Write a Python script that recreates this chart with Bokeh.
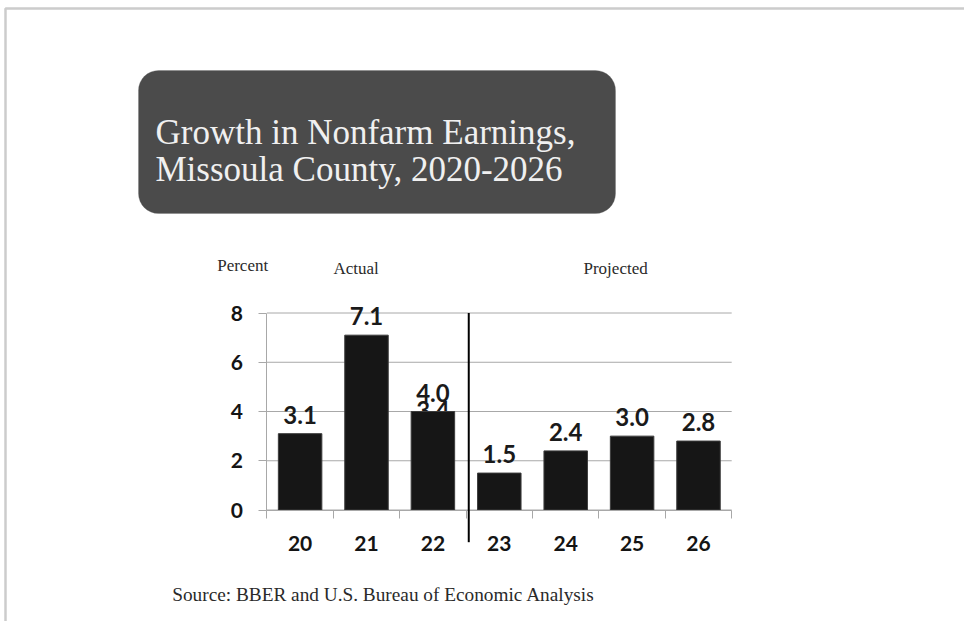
from bokeh.plotting import figure
from bokeh.models import (ColumnDataSource, FixedTicker, LabelSet, Label,
                          BoxAnnotation, Arrow, Range1d)
from bokeh.core.properties import value
from bokeh.embed import file_html
from bokeh.resources import INLINE

# ---- data ----
years = ["20", "21", "22", "23", "24", "25", "26"]
growth = [3.1, 7.1, 4.0, 1.5, 2.4, 3.0, 2.8]
value_labels = ["3.1", "7.1", "4.0", "1.5", "2.4", "3.0", "2.8"]
stale_years = ["22"]
stale_values = [3.4]
stale_labels = ["3.4"]
n_actual = 3
y_ticks = [0, 2, 4, 6, 8]
title_lines = ["Growth in Nonfarm Earnings,", "Missoula County, 2020-2026"]
source_text = "Source:  BBER and U.S. Bureau of Economic Analysis"

# ---- layout (canvas pixels) ----
W, H = 964, 621
X_ORIGIN_PX = 266.4    # canvas x of the left end of the category axis
Y_ORIGIN_PX = 509.5    # canvas y of value 0
PX_PER_CAT = 66.4
PX_PER_UNIT = 24.625


def dx(cx):
    return -0.5 + (cx - X_ORIGIN_PX) / PX_PER_CAT


def dy(cy):
    return (Y_ORIGIN_PX - cy) / PX_PER_UNIT


xs = list(range(len(years)))
src = ColumnDataSource(dict(x=xs, top=growth, lab=value_labels))
stale_src = ColumnDataSource(dict(x=[years.index(y) for y in stale_years],
                                  top=stale_values, lab=stale_labels))

p = figure(width=W, height=H, output_backend="svg", toolbar_location=None,
           x_range=Range1d(dx(0), dx(W)), y_range=Range1d(dy(H), dy(0)),
           min_border=0)
p.title.visible = False
p.outline_line_color = None
p.background_fill_color = "white"
p.border_fill_color = "white"

GRID = "#a8a8a8"
BOLD = "Lato"
SERIF = "Liberation Serif"

# gridlines (only across the category span)
p.segment(x0=-0.5, x1=len(years) - 0.5, y0=y_ticks, y1=y_ticks,
          line_color=GRID, line_width=1)

# x axis at value 0
xa = p.xaxis[0]
xa.fixed_location = 0
xa.bounds = (-0.5, len(years) - 0.5)
xa.ticker = FixedTicker(ticks=xs, minor_ticks=[i - 0.5 for i in range(len(years) + 1)])
xa.major_label_overrides = {i: y for i, y in zip(xs, years)}
xa.major_tick_out = 0
xa.major_tick_in = 0
xa.minor_tick_out = 8
xa.minor_tick_in = 0
xa.minor_tick_line_color = GRID
xa.axis_line_color = GRID
xa.major_label_standoff = 18
xa.major_label_text_font = BOLD
xa.major_label_text_font_style = "bold"
xa.major_label_text_font_size = "21px"
xa.major_label_text_color = "#141414"

# y axis at the left end of the categories
ya = p.yaxis[0]
ya.fixed_location = -0.5
ya.bounds = (0, 8)
ya.ticker = FixedTicker(ticks=y_ticks, minor_ticks=[])
ya.major_tick_out = 8
ya.major_tick_in = 0
ya.major_tick_line_color = GRID
ya.axis_line_color = GRID
ya.major_label_standoff = 16
ya.major_label_text_font = BOLD
ya.major_label_text_font_style = "bold"
ya.major_label_text_font_size = "21px"
ya.major_label_text_color = "#141414"

p.xgrid.visible = False
p.ygrid.visible = False

# stale label, partly hidden beneath its bar
p.text(x="x", y="top", text="lab", source=stale_src, y_offset=-16,
       text_align="center", text_baseline="alphabetic",
       text_font=value(BOLD), text_font_style="bold", text_font_size="24px",
       text_color="#1a1a1a")

p.vbar(x="x", top="top", width=0.655, source=src, fill_color="#161616",
       line_color="#3c3c3c", line_width=1)

p.add_layout(LabelSet(x="x", y="top", text="lab", source=src,
                      y_offset=10, text_align="center", text_baseline="alphabetic",
                      text_font=value(BOLD), text_font_style="bold", text_font_size="24px",
                      text_color="#1a1a1a"))

# divider between actual and projected
div_x = n_actual - 0.46
p.add_layout(Arrow(end=None, x_start=div_x, y_start=8, x_end=div_x, y_end=dy(541.7),
                   line_color="black", line_width=2))

# outer slide border (top and left edges visible)
p.add_layout(BoxAnnotation(left=dx(5), right=dx(3000), top=dy(8), bottom=dy(3000),
                           fill_alpha=0, line_color="#555555", line_width=2.5))

# title box
p.add_layout(BoxAnnotation(left=dx(138), right=dx(615), top=dy(70), bottom=dy(213),
                           fill_color="#4b4b4b", fill_alpha=1, line_color="#6a6a6a",
                           line_width=1, border_radius=20))
for i, line in enumerate(title_lines):
    p.add_layout(Label(x=dx(155), y=dy(131.7 + 37.3 * i), text=line,
                       text_font=SERIF, text_font_size="35px",
                       text_color="#f0f0f0", text_baseline="alphabetic"))

for txt, cx, cy in [("Percent", 216.7, 265), ("Actual", 333, 268), ("Projected", 583, 268)]:
    p.add_layout(Label(x=dx(cx), y=dy(cy), text=txt, text_font=SERIF,
                       text_font_size="17px", text_color="#2a2a2a",
                       text_baseline="alphabetic"))

p.add_layout(Label(x=dx(171.7), y=dy(594.3), text=source_text, text_font=SERIF,
                   text_font_size="19.3px", text_color="#2a2a2a",
                   text_baseline="alphabetic"))

open("out.html", "w").write(file_html(p, INLINE))
